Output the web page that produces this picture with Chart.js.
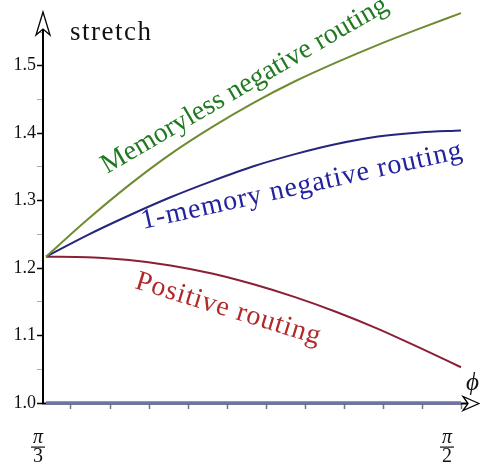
<!doctype html><html lang="en"><head>
<meta charset="UTF-8"><title>stretch</title>
<script src="https://cdn.jsdelivr.net/npm/chart.js"></script>
<style>
 html,body{margin:0;background:#fff}
 canvas{display:block}
</style></head><body>
<canvas id="c" width="480" height="467"></canvas>
<script>
// ----- data -----
const phiValues     = [1.0472,1.0996,1.1519,1.2043,1.2566,1.3090,1.3614,1.4137,1.4661,1.5184,1.5708];
const memorylessNeg = [1.217,1.272,1.323,1.369,1.409,1.445,1.477,1.505,1.531,1.555,1.578];
const oneMemoryNeg  = [1.217,1.249,1.278,1.305,1.329,1.351,1.369,1.384,1.395,1.401,1.404];
const positiveRout  = [1.217,1.216,1.212,1.204,1.192,1.176,1.157,1.135,1.110,1.082,1.053];
const unitStretch   = [1,1,1,1,1,1,1,1,1,1,1];

const yTickValues = [1.0,1.05,1.1,1.15,1.2,1.25,1.3,1.35,1.4,1.45,1.5,1.55];
const xTickValues = [1.0787,1.1280,1.1774,1.2267,1.2760,1.3254,1.3747,1.4240,1.4734,1.5227,1.5720];
const xTickLabels = [{value:Math.PI/3, num:'π', den:'3'}, {value:Math.PI/2, num:'π', den:'2'}];

const SERIF = '"Liberation Serif", "DejaVu Serif", serif';
const pts = ys => phiValues.map((x,i)=>({x, y:ys[i]}));
const isMajor = v => Math.abs(v*10 - Math.round(v*10)) < 1e-6;

// ----- axes with arrow heads, fraction labels, curve captions -----
function arrowHead(ctx, tip, l, r, notch){
  ctx.beginPath();
  ctx.moveTo(...tip); ctx.lineTo(...l); ctx.lineTo(...notch); ctx.lineTo(...r);
  ctx.closePath();
  ctx.fillStyle='#fff'; ctx.fill();
  ctx.strokeStyle='#000'; ctx.lineWidth=1.3; ctx.stroke();
}

const axesPlugin = {
  id:'axes',
  beforeDatasetsDraw(chart){
    const {ctx, chartArea:a} = chart;
    ctx.save();
    ctx.strokeStyle='#000'; ctx.lineWidth=2;
    ctx.beginPath(); ctx.moveTo(a.left, a.bottom+1); ctx.lineTo(a.left, 28); ctx.stroke();
    ctx.beginPath(); ctx.moveTo(a.left-1, a.bottom+0.5); ctx.lineTo(468, a.bottom+0.5); ctx.stroke();
    arrowHead(ctx, [a.left,12], [a.left-7,35], [a.left+7,35], [a.left,29]);
    arrowHead(ctx, [479,a.bottom+0.5], [463,a.bottom-6.5], [463,a.bottom+7.5], [468,a.bottom+0.5]);
    ctx.restore();
  },
  afterDraw(chart, args, opts){
    const {ctx} = chart;
    const xs = chart.scales.x;
    ctx.save();
    ctx.fillStyle='#111';
    // axis titles
    ctx.font = '27px '+SERIF;
    ctx.letterSpacing = '1.5px';
    ctx.textBaseline='alphabetic'; ctx.textAlign='left';
    ctx.fillText('stretch', 70, 40);
    ctx.letterSpacing = '0px';
    ctx.font = 'italic 25px '+SERIF;
    ctx.fillText('ϕ', 466, 390);
    // fraction tick labels
    xTickLabels.forEach((t,i)=>{
      const cx = xs.getPixelForValue(t.value) + opts.fracShift[i];
      ctx.textAlign='center';
      ctx.font = 'italic 20px '+SERIF;
      ctx.fillText(t.num, cx, 443);
      ctx.fillRect(cx-7, 446.5, 14, 1.2);
      ctx.font = '20px '+SERIF;
      ctx.fillText(t.den, cx, 462);
    });
    // captions along the curves
    ctx.textAlign='left';
    opts.captions.forEach(c=>{
      ctx.save();
      ctx.translate(c.x, c.y);
      ctx.rotate(c.angle*Math.PI/180);
      ctx.font = c.size+'px '+SERIF;
      ctx.letterSpacing = '0px';
      const w = ctx.measureText(c.text).width;
      ctx.letterSpacing = ((c.len - w)/(c.text.length-1)).toFixed(2)+'px';
      ctx.fillStyle = c.color;
      ctx.fillText(c.text, 0, 0);
      ctx.restore();
    });
    ctx.restore();
  }
};

const line = (data, color, width) => ({
  data, borderColor:color, borderWidth:width, pointRadius:0,
  cubicInterpolationMode:'monotone', fill:false, clip:false
});

new Chart(document.getElementById('c'), {
  type:'line',
  data:{ datasets:[
    line(pts(unitStretch),   '#6d74a6', 3.5),
    line(pts(memorylessNeg), '#6e8c32', 2),
    line(pts(oneMemoryNeg),  '#25257c', 2),
    line(pts(positiveRout),  '#8a2035', 2)
  ]},
  options:{
    responsive:false, animation:false,
    layout:{padding:{top:10, right:18, left:0, bottom:0}},
    plugins:{
      legend:{display:false}, tooltip:{enabled:false},
      axes:{
        fracShift:[-8,-14],
        captions:[
          {text:'Memoryless negative routing', x:107, y:174, angle:-30.2, len:327, size:28, color:'#217a21'},
          {text:'1-memory negative routing',   x:143, y:229, angle:-12.5, len:328, size:28, color:'#2323a0'},
          {text:'Positive routing',            x:134, y:288, angle:17.1,  len:192, size:28, color:'#b02a2a'}
        ]
      }
    },
    scales:{
      x:{
        type:'linear', min:1.0434, max:1.5721,
        afterBuildTicks: s => { s.ticks = xTickValues.map(value=>({value})); },
        afterFit: s => { s.height = 64; },
        border:{display:false},
        grid:{drawOnChartArea:false, drawTicks:true, tickLength:6, tickColor:'#777', tickWidth:1.5},
        ticks:{display:false}
      },
      y:{
        type:'linear', min:1.0, max:1.58,
        afterBuildTicks: s => { s.ticks = yTickValues.map(value=>({value})); },
        afterFit: s => { s.width = 43; },
        border:{display:false},
        grid:{drawOnChartArea:false, drawTicks:true, tickLength:6,
          tickColor: c => isMajor(c.tick.value) ? '#000' : '#aaa',
          tickWidth: c => isMajor(c.tick.value) ? 1.5 : 1},
        ticks:{
          padding:1, color:'#111', font:{family:SERIF, size:18},
          callback: v => isMajor(v) ? v.toFixed(1) : ''
        }
      }
    }
  },
  plugins:[axesPlugin]
});
</script>
</body></html>
